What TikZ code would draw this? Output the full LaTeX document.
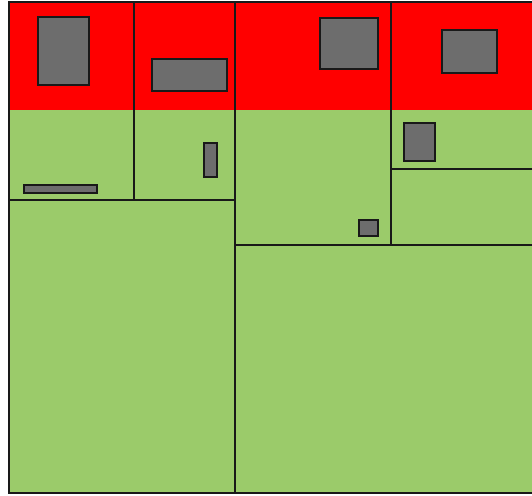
\documentclass[tikz,border=0pt]{standalone}
\usepackage{xcolor}
\usepackage{tikz}

\definecolor{hotred}{HTML}{FF0000}
\definecolor{leaf}{HTML}{9BCB6A}
\definecolor{slab}{HTML}{6D6D6D}

\begin{document}
\begin{tikzpicture}[
      x=1pt, y=-1pt,
      wall/.style={draw=black!90, line width=2.4pt},
      hot/.style={fill=hotred},
      cool/.style={fill=leaf},
      item/.style={draw=black!90, fill=slab, line width=2.2pt}
    ]

    \clip (0,0) rectangle (532,495);
    \fill[white] (0,0) rectangle (532,495);

    % ---- bands: red on top, green below ----
    \fill[hot]  (9,2)   rectangle (545,110);
    \fill[cool] (9,110) rectangle (545,493);

    % ---- walls ----
    \draw[wall] (9,2) rectangle (545,493);
    \draw[wall] (134,2) -- (134,200);
    \draw[wall] (9,200) -- (235,200);
    \draw[wall] (235,2) -- (235,493);
    \draw[wall] (391,2) -- (391,245);
    \draw[wall] (235,245) -- (545,245);
    \draw[wall] (391,169) -- (545,169);

    % ---- small blocks ----
    \foreach \xa/\ya/\xb/\yb in {38/17/89/85, 152/59/227/91, 24/185/97/193,
                                 204/143/217/177, 320/18/378/69, 442/30/497/73,
                                 404/123/435/161, 359/220/378/236}
      \draw[item] (\xa,\ya) rectangle (\xb,\yb);

    \end{tikzpicture}
\end{document}
